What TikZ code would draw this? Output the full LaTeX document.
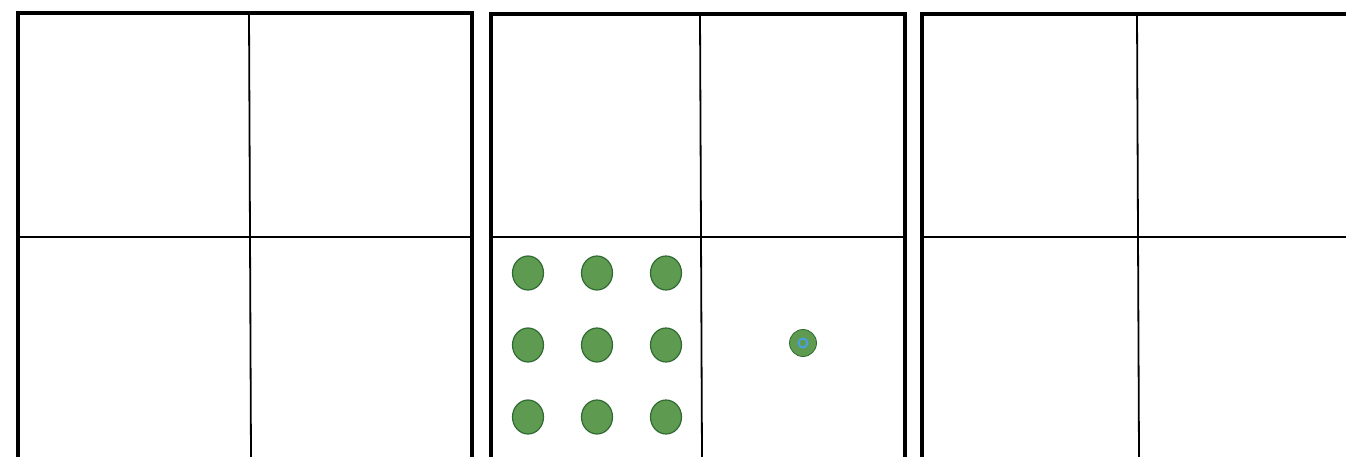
\documentclass[tikz,border=0pt]{standalone}
\usepackage{xcolor}
\usepackage{tikz}
\usetikzlibrary{shapes.geometric}
\definecolor{dotgreen}{HTML}{5E9A50}
\definecolor{dotedge}{HTML}{2F6A32}
\definecolor{ringblue}{HTML}{4A9FE0}

\begin{document}
\begin{tikzpicture}[x=1pt, y=-1pt,
    frame/.style={line width=3.4pt, line join=miter},
    divider/.style={line width=1.8pt},
    counter/.style={ellipse, fill=dotgreen, draw=dotedge, line width=1.2pt,
      minimum width=31pt, minimum height=34pt, inner sep=0pt},
    single/.style={circle, fill=dotgreen, draw=dotedge, line width=0.8pt,
      minimum size=27pt, inner sep=0pt}]

  \useasboundingbox (0,0) rectangle (1346,457);

  % Three place-value boxes, open at the bottom; the last one runs off the page.
  % left / middle / right edge of each
  \foreach \l/\m/\r/\t in {18/249/472/13, 491/700/905/14, 922/1137/1360/14}{
    \draw[frame] (\l,458) -- (\l,\t) -- (\r,\t) -- (\r,458);
    \draw[divider] (\m,\t) -- (\m+2,458);
    \draw[divider] (\l,237) -- (\r,237);
  }

  % nine counters in the lower left cell of the middle box
  \foreach \i/\x in {1/528, 2/597, 3/666}{
    \foreach \j/\y in {1/273, 2/345, 3/417}{
      \node[counter] (c\i\j) at (\x,\y) {};
    }}

  % one counter in the lower right cell
  \node[single] (one) at (803,343) {};
  \draw[ringblue, line width=2pt] (one.center) circle (4.5pt);

\end{tikzpicture}
\end{document}
